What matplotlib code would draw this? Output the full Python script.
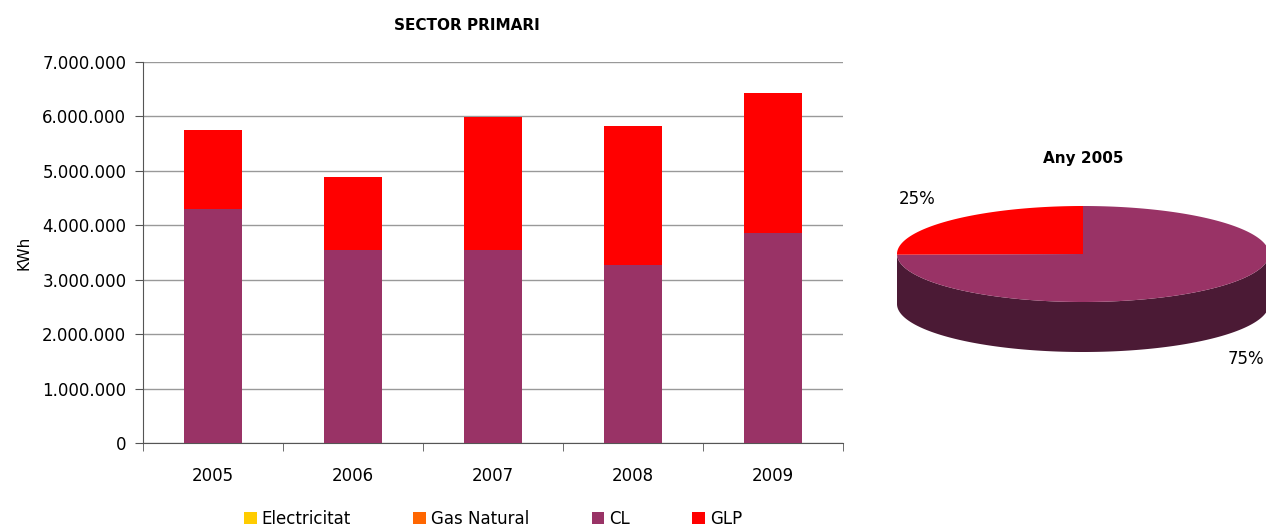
import numpy as np
import matplotlib
matplotlib.use("Agg")
import matplotlib.pyplot as plt
from matplotlib.patches import Polygon
from matplotlib.ticker import FuncFormatter

years = ["2005", "2006", "2007", "2008", "2009"]
electricitat = [0, 0, 0, 0, 0]
gas_natural = [0, 0, 0, 0, 0]
cl = [4300000, 3550000, 3550000, 3270000, 3860000]
glp = [1450000, 1340000, 2440000, 2550000, 2570000]

series_names = ["Electricitat", "Gas Natural", "CL", "GLP"]
series_colors = ["#FFCC00", "#FF6600", "#993366", "#FF0000"]
pie_title = "Any 2005"

plt.rcParams["font.family"] = ["DejaVu Sans"]

fig = plt.figure(figsize=(12.66, 5.29), dpi=100)
W, H = 1266, 529

# bar chart, placed in pixel coordinates of the reference
ax = fig.add_axes([143 / W, 1 - 443 / H, 700 / W, 381 / H])
x = np.arange(len(years))
bottom = np.zeros(len(years))
for name, vals, col in zip(series_names, [electricitat, gas_natural, cl, glp],
                           series_colors):
    ax.bar(x, vals, width=0.41, bottom=bottom, color=col, label=name, zorder=3)
    bottom += np.array(vals)

ax.set_xlim(-0.5, len(years) - 0.5)
ax.set_ylim(0, 7000000)
ax.set_yticks(np.arange(0, 7000001, 1000000))
ax.yaxis.set_major_formatter(
    FuncFormatter(lambda v, p: f"{int(v):,}".replace(",", ".")))
ax.yaxis.grid(True, color="#999999", linewidth=1, zorder=0)
ax.set_xticks(x)
ax.set_xticklabels(years)
ax.set_xticks(np.arange(-0.5, len(years)), minor=True)
ax.tick_params(axis="x", which="major", length=0, pad=17, labelsize=12)
ax.tick_params(axis="x", which="minor", length=6, color="#555555")
ax.tick_params(axis="y", length=6, color="#555555", labelsize=12, pad=6)
for s in ("top", "right"):
    ax.spines[s].set_visible(False)
ax.spines["left"].set_color("#555555")
ax.spines["bottom"].set_color("#555555")
ax.set_ylabel("KWh", fontsize=11, labelpad=8)
ax.set_title("SECTOR PRIMARI", fontsize=11, fontweight="bold", pad=23,
             x=467 / 700 - 143 / 700)
ax.legend(loc="center", bbox_to_anchor=(0.5, -0.2), ncol=4, frameon=False,
          fontsize=12, handlelength=0.75, handleheight=0.75, handletextpad=0.3,
          columnspacing=3.75)

# 3D pie for the first year, drawn in pixel units
pax = fig.add_axes([0, 0, 1, 1], zorder=-1)
pax.set_xlim(0, W)
pax.set_ylim(H, 0)
pax.axis("off")

pie_vals = [electricitat[0], gas_natural[0], cl[0], glp[0]]
total = sum(pie_vals)
cx, cy, rx, ry, depth = 1083, 254, 186, 48, 50
side_color = "#4B1A35"


def ell(t):
    return cx + rx * np.cos(t), cy - ry * np.sin(t)


# side wall (front half)
t = np.linspace(np.pi, 2 * np.pi, 200)
xs, ys = ell(t)
wall = np.concatenate([np.column_stack([xs, ys]),
                       np.column_stack([xs[::-1], ys[::-1] + depth])])
pax.add_patch(Polygon(wall, closed=True, color=side_color, lw=0))

# top face, Excel style: start at 12 o'clock, go clockwise
start = np.pi / 2
label_pos = {2: (1246, 359), 3: (917, 199)}
for i, (v, col) in enumerate(zip(pie_vals, series_colors)):
    if v == 0:
        continue
    sweep = 2 * np.pi * v / total
    tt = np.linspace(start, start - sweep, 200)
    px, py = ell(tt)
    pts = np.vstack([[cx, cy], np.column_stack([px, py])])
    pax.add_patch(Polygon(pts, closed=True, color=col, lw=0))
    lx, ly = label_pos[i]
    pax.text(lx, ly, f"{v / total * 100:.0f}%", fontsize=12,
             ha="center", va="center")
    start -= sweep

pax.text(cx, 158, pie_title, fontsize=11, fontweight="bold",
         ha="center", va="center")

fig.savefig("out.png", dpi=100)
